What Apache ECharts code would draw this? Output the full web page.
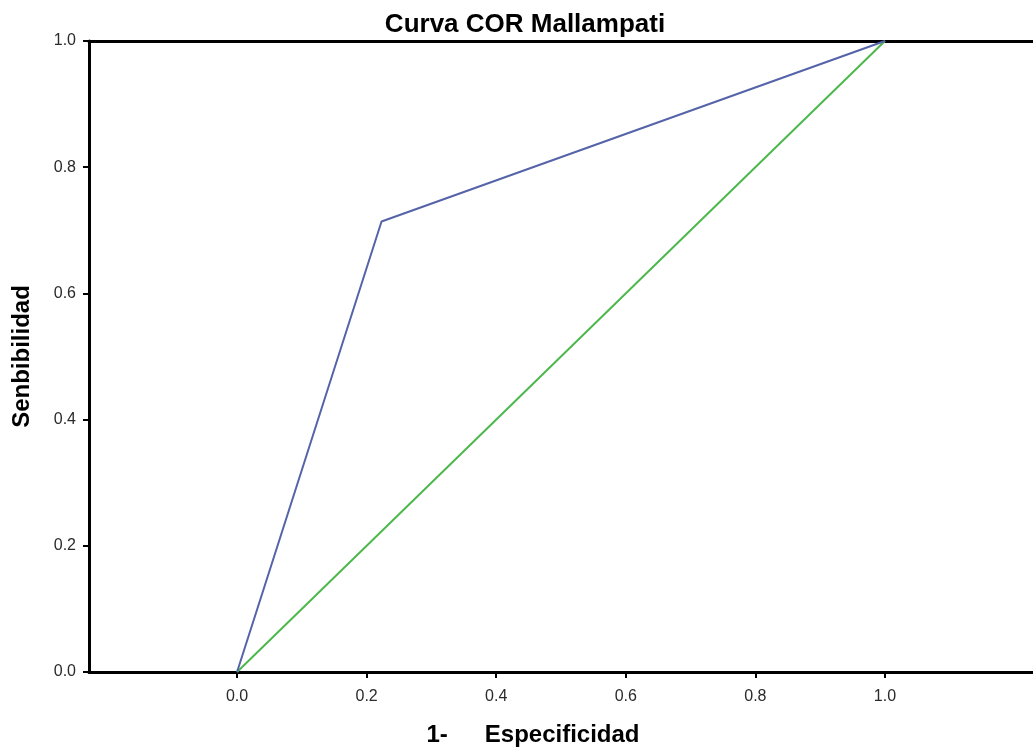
<!DOCTYPE html>
<html><head><meta charset="utf-8">
<script src="https://cdn.jsdelivr.net/npm/echarts@6/dist/echarts.min.js"></script>
<style>html,body{margin:0;padding:0;background:#fff}#c{width:1033px;height:754px}</style>
</head><body><div id="c"></div>
<script>
const titleText = 'Curva COR Mallampati';
const xNameParts = ['1-', 'Especificidad'];
const yName = 'Senbibilidad';
const rocX = [0, 0.223, 1];
const rocY = [0, 0.714, 1];
const refX = [0, 1];
const refY = [0, 1];
const tickValues = [0, 0.2, 0.4, 0.6, 0.8, 1.0];

const chart = echarts.init(document.getElementById('c'));
const font = 'Liberation Sans, Arial, sans-serif';
const nameStyle = {fontFamily: font, fontSize: 24, fontWeight: 'bold', color: '#000'};
chart.setOption({
  animation: false,
  title: {text: titleText, left: 520, top: 7, textAlign: 'center',
    textStyle: {fontFamily: font, fontSize: 26, fontWeight: 'bold', color: '#000'}},
  grid: {left: 89, top: 41, bottom: 82, right: -6},
  xAxis: [{
    type: 'value', min: -0.2285, max: 1.2285,
    axisLine: {onZero: false, lineStyle: {color: '#000', width: 3}},
    axisTick: {show: true, length: 6, lineStyle: {color: '#000', width: 2}, customValues: tickValues},
    axisLabel: {fontFamily: font, fontSize: 16, color: '#2a2a2a', margin: 17, customValues: tickValues,
      formatter: v => v.toFixed(1)},
    splitLine: {show: false},
    name: '{a|' + xNameParts[0] + '}{b|' + xNameParts[1] + '}', nameLocation: 'middle', nameGap: 51,
    nameTextStyle: Object.assign({}, nameStyle, {padding: [0, 56, 0, 0],
      rich: {a: Object.assign({}, nameStyle, {padding: [0, 37, 0, 0]}), b: nameStyle}})
  }, {
    type: 'value', position: 'top', min: -0.2285, max: 1.2285,
    axisLine: {show: true, onZero: false, lineStyle: {color: '#000', width: 3}},
    axisTick: {show: false}, axisLabel: {show: false}, splitLine: {show: false}
  }],
  yAxis: {
    type: 'value', min: 0, max: 1, interval: 0.2,
    axisLine: {show: true, onZero: false, lineStyle: {color: '#000', width: 3}},
    axisTick: {show: true, length: 6, lineStyle: {color: '#000', width: 2}},
    axisLabel: {fontFamily: font, fontSize: 16, color: '#2a2a2a', margin: 13, formatter: v => v.toFixed(1)},
    splitLine: {show: false},
    name: yName, nameLocation: 'middle', nameGap: 55, nameRotate: 90,
    nameTextStyle: nameStyle
  },
  series: [
    {type: 'line', data: refX.map((x, i) => [x, refY[i]]), symbol: 'none',
      lineStyle: {color: '#4cb84c', width: 2}, z: 2},
    {type: 'line', data: rocX.map((x, i) => [x, rocY[i]]), symbol: 'none',
      lineStyle: {color: '#5563a8', width: 2}, z: 3}
  ]
});
</script></body></html>
